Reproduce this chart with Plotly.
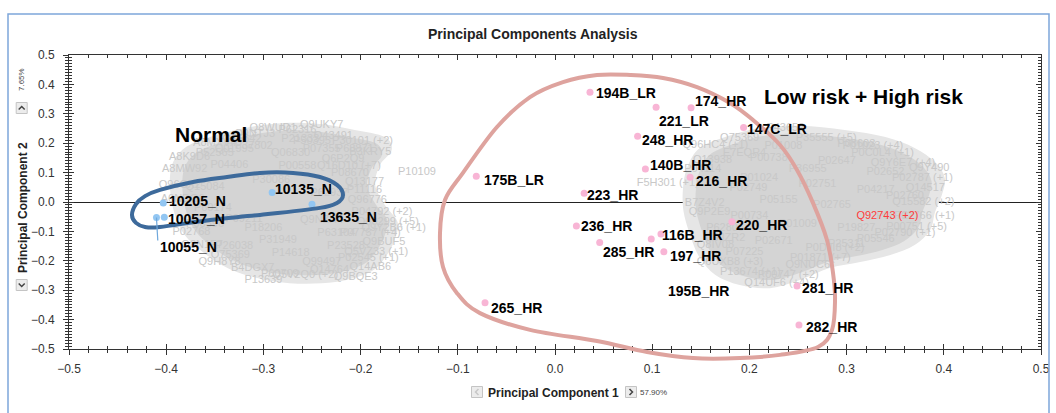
import plotly.graph_objects as go

# ---------------- sample scores (PC1, PC2) ----------------
normal_names = ["10205_N", "10057_N", "10055_N", "10135_N", "13635_N"]
normal_pc1 = [-0.403, -0.402, -0.410, -0.291, -0.250]
normal_pc2 = [-0.003, -0.052, -0.053, 0.032, -0.008]

risk_names = ["194B_LR", "221_LR", "174_HR", "147C_LR", "248_HR", "140B_HR",
              "216_HR", "175B_LR", "223_HR", "236_HR", "285_HR", "116B_HR",
              "195B_HR", "197_HR", "220_HR", "281_HR", "282_HR", "265_HR"]
risk_pc1 = [0.036, 0.104, 0.140, 0.194, 0.085, 0.093, 0.139, -0.081, 0.030,
            0.022, 0.046, 0.109, 0.099, 0.112, 0.182, 0.249, 0.251, -0.072]
risk_pc2 = [0.373, 0.322, 0.321, 0.253, 0.224, 0.112, 0.084, 0.088, 0.030,
            -0.082, -0.138, -0.109, -0.126, -0.169, -0.067, -0.286, -0.418, -0.343]

# ---------------- protein loadings (shown as grey ids) ----------------
left_ids = ["P62316", "Q9NTJ3", "A8MXV4", "Q15642", "O43491", "Q8WUD1", "P30101 (+2)",
            "B3KRY5", "Q6P2Q9", "Q16D10 (+7)", "A8K9D6", "A8MW92", "Q96CX2", "P08670",
            "Q13177", "P11116", "Q96776", "P04792 (+2)", "O00299 (+5)", "Q9Y2B6 (+1)",
            "P07737 (+4)", "Q5VZ33 (+1)", "P02545 (+1)", "Q14AB6", "Q5V2Q0 (+2)", "B4DGX7",
            "Q9H8Y8", "P02768", "Q8N1F7", "A6NDG6", "Q14764", "P60709", "O75369", "P68871",
            "Q01995", "P21333", "Q9BUF5", "P04406", "Q06830", "P07355", "P60174", "P18206",
            "Q9NZN4", "P26038", "P14618", "P23528", "Q15084", "P30086", "P62937", "P37802",
            "P50395", "P31949", "Q99497", "P09211", "P00558", "P52565", "P63104",
            "Q9UKY7", "P13639", "Q9BQE3", "P06396"]
left_pc1 = [-0.265, -0.309, -0.350, -0.322, -0.228, -0.290, -0.198,
            -0.190, -0.218, -0.212, -0.376, -0.381, -0.386, -0.211,
            -0.196, -0.196, -0.193, -0.178, -0.172, -0.166,
            -0.190, -0.184, -0.192, -0.190, -0.257, -0.311,
            -0.345, -0.374, -0.363, -0.383, -0.232, -0.283, -0.334, -0.206,
            -0.330, -0.262, -0.176, -0.335, -0.272, -0.240, -0.352, -0.300,
            -0.240, -0.330, -0.272, -0.215, -0.360, -0.292, -0.232, -0.310,
            -0.250, -0.285, -0.240, -0.320, -0.265, -0.350, -0.225,
            -0.240, -0.300, -0.205, -0.360]
left_pc2 = [0.245, 0.232, 0.200, 0.214, 0.222, 0.252, 0.205,
            0.168, 0.145, 0.120, 0.152, 0.110, 0.058, 0.098,
            0.068, 0.040, 0.006, -0.034, -0.068, -0.090,
            -0.106, -0.172, -0.190, -0.222, -0.250, -0.226,
            -0.205, -0.104, -0.148, 0.008, -0.232, -0.246, -0.180, 0.178,
            0.178, 0.212, -0.138, 0.125, 0.165, 0.180, -0.020, -0.090,
            -0.062, -0.150, -0.175, -0.150, 0.050, 0.075, 0.030, 0.190,
            0.205, -0.130, -0.205, -0.060, 0.120, 0.165, -0.105,
            0.262, -0.265, -0.255, -0.075]

right_ids = ["P43652", "Q75369", "P35555 (+5)", "Q96HC4 (+1)", "P01023 (+4)", "E7EQR4",
             "P0C0L4 (+1)", "Q9Y6E7 (+4)", "P02787 (+1)", "Q14517", "P02749", "Q15582 (+2)",
             "P00751 (+5)", "P02790 (+1)", "P0DJI8 (+2)", "Q6UXB8 (+3)", "P01871 (+7)",
             "P13674 (+1)", "Q9NUC6", "Q14UF6 (+4)", "F5H301 (+1)", "B7Z4V2", "Q9P2E9",
             "P62805", "Q8IV08", "C9JZR2", "P04114", "Q13938", "P00738", "P02647", "P02652",
             "P01024", "P02751", "P04217", "P05155", "P02765", "P01009", "P19827", "P02671",
             "P25311", "P06727", "P36955", "P08603", "P01008", "P00734", "P02760", "P07225",
             "P05546", "Q9Y490", "P02766 (+1)", "P00747 (+2)"]
right_pc1 = [0.237, 0.190, 0.279, 0.165, 0.327, 0.195,
             0.337, 0.358, 0.378, 0.381, 0.199, 0.379,
             0.372, 0.360, 0.288, 0.180, 0.273,
             0.201, 0.260, 0.228, 0.116, 0.154, 0.159,
             0.175, 0.165, 0.175, 0.152, 0.162, 0.220, 0.290, 0.340,
             0.210, 0.270, 0.330, 0.230, 0.285, 0.250, 0.310, 0.225,
             0.300, 0.350, 0.260, 0.310, 0.235, 0.200, 0.360, 0.195,
             0.330, 0.385, 0.380, 0.240]
right_pc2 = [0.252, 0.218, 0.218, 0.194, 0.190, 0.167,
             0.167, 0.133, 0.082, 0.048, 0.048, 0.000,
             -0.085, -0.105, -0.156, -0.204, -0.190,
             -0.238, -0.214, -0.276, 0.065, -0.003, -0.034,
             -0.088, -0.146, -0.122, 0.110, 0.143, 0.150, 0.140, 0.100,
             0.080, 0.060, 0.040, 0.005, -0.010, -0.075, -0.090, -0.135,
             -0.145, -0.050, 0.110, 0.195, 0.190, -0.050, 0.020, -0.170,
             -0.125, 0.115, -0.050, -0.250]

lone_ids = ["P10109"]
lone_pc1 = [-0.142]
lone_pc2 = [0.102]

selected_ids = ["Q92743 (+2)"]
selected_pc1 = [0.342]
selected_pc2 = [-0.048]

x_ticks = [-0.5, -0.4, -0.3, -0.2, -0.1, 0.0, 0.1, 0.2, 0.3, 0.4, 0.5]
y_ticks = [-0.5, -0.4, -0.3, -0.2, -0.1, 0.0, 0.1, 0.2, 0.3, 0.4, 0.5]

# ---------------- styling / layout geometry ----------------
W, H = 1056, 413
ML, MR, MT, MB = 69, 15, 55, 64
PW, PH = W - ML - MR, H - MT - MB
XR = [-0.5, 0.5]
YR = [-0.5, 0.5]
FONT = "Arial, 'Liberation Sans', sans-serif"
GREY_TXT = "rgb(200,200,200)"
CLOUD_EDGE = "rgb(230,230,230)"
CLOUD_CORE = "rgb(212,212,212)"
BLUE_PT = "#92c6f2"
PINK_PT = "#f8b5d5"

# label placement (px right, px down) from each point
normal_dx = [5.7, 4.0, 3.3, 2.7, 8.3]
normal_dy = [-2.3, 1.7, 29.0, -3.7, 12.4]
risk_dx = [5.7, 3.3, 4.0, 3.7, 4.7, 4.7, 5.7, 7.3, 2.4, 5.0, 3.4, 1.3, 16.3, 5.7, 4.4, 5.0, 7.4, 5.7]
risk_dy = [1.0, 13.7, -7.0, 1.3, 4.0, -4.0, 3.7, 4.0, 1.7, 0.0, 9.0, 1.0, 51.7, 4.3, 3.3, 2.3, 1.7, 5.6]


def px_x(px):
    return (px - ML) / PW


def px_y(py):
    return (H - MB - py) / PH


def data_to_paper_x(v):
    return (v - XR[0]) / (XR[1] - XR[0])


def data_to_paper_y(v):
    return (v - YR[0]) / (YR[1] - YR[0])


def smooth_closed_path(xs, ys):
    """Closed Catmull-Rom spline through the given points, as an SVG path."""
    pts = list(zip(xs, ys))
    n = len(pts)
    d = "M{:.5f},{:.5f}".format(*pts[0])
    for i in range(n):
        p0, p1, p2, p3 = pts[(i - 1) % n], pts[i], pts[(i + 1) % n], pts[(i + 2) % n]
        c1 = (p1[0] + (p2[0] - p0[0]) / 6, p1[1] + (p2[1] - p0[1]) / 6)
        c2 = (p2[0] - (p3[0] - p1[0]) / 6, p2[1] - (p3[1] - p1[1]) / 6)
        d += " C{:.5f},{:.5f} {:.5f},{:.5f} {:.5f},{:.5f}".format(*c1, *c2, *p2)
    return d + " Z"


def shrink(xs, ys, k):
    cx, cy = sum(xs) / len(xs), sum(ys) / len(ys)
    return [cx + k * (x - cx) for x in xs], [cy + k * (y - cy) for y in ys]


# outlines of the dense label clouds (data units)
left_cloud_x = [-0.394, -0.381, -0.355, -0.319, -0.278, -0.242, -0.206, -0.175, -0.168, -0.180,
                -0.185, -0.175, -0.162, -0.165, -0.175, -0.190, -0.226, -0.273, -0.314, -0.343,
                -0.365, -0.381, -0.391, -0.396]
left_cloud_y = [0.126, 0.184, 0.221, 0.252, 0.269, 0.265, 0.245, 0.221, 0.177, 0.126,
                0.058, -0.010, -0.068, -0.129, -0.190, -0.238, -0.272, -0.276, -0.252, -0.214,
                -0.163, -0.112, -0.044, 0.041]
right_cloud_x = [0.137, 0.149, 0.175, 0.211, 0.252, 0.298, 0.340, 0.370, 0.391, 0.401,
                 0.398, 0.391, 0.386, 0.370, 0.345, 0.314, 0.283, 0.252, 0.221, 0.190,
                 0.165, 0.149, 0.139, 0.132, 0.132]
right_cloud_y = [0.126, 0.184, 0.221, 0.252, 0.259, 0.245, 0.221, 0.184, 0.136, 0.082,
                 0.024, -0.034, -0.095, -0.146, -0.180, -0.204, -0.224, -0.265, -0.293, -0.282,
                 -0.248, -0.190, -0.112, -0.027, 0.058]

# group rings (data units)
normal_ring_x = [-0.4352, -0.4311, -0.4218, -0.4064, -0.3724, -0.3374, -0.3035, -0.2695, -0.2418,
                 -0.2243, -0.2181, -0.2243, -0.2418, -0.3035, -0.3549, -0.4064, -0.4218, -0.4311]
normal_ring_y = [-0.044, -0.007, 0.020, 0.041, 0.068, 0.085, 0.099, 0.099, 0.085,
                 0.058, 0.024, -0.003, -0.020, -0.044, -0.061, -0.085, -0.085, -0.071]
risk_ring_x = [-0.1132, -0.0947, -0.0597, -0.0257, 0.0082, 0.0432, 0.0772, 0.1111, 0.1461, 0.1800,
               0.2037, 0.2315, 0.2490, 0.2654, 0.2798, 0.2860, 0.2881, 0.2850, 0.2706, 0.2315,
               0.1903, 0.1420, 0.0947, 0.0432, -0.0257, -0.0772, -0.1008, -0.1152, -0.1183]
risk_ring_y = [0.007, 0.099, 0.255, 0.357, 0.408, 0.432, 0.432, 0.422, 0.391, 0.337,
               0.279, 0.194, 0.109, -0.003, -0.129, -0.241, -0.333, -0.435, -0.493, -0.520,
               -0.531, -0.531, -0.510, -0.473, -0.435, -0.378, -0.310, -0.221, -0.105]

fig = go.Figure()

# grey protein ids
for ids, xs, ys in [(left_ids, left_pc1, left_pc2), (right_ids, right_pc1, right_pc2),
                    (lone_ids, lone_pc1, lone_pc2)]:
    fig.add_trace(go.Scatter(x=xs, y=ys, text=ids, mode="text",
                             textfont=dict(family=FONT, size=11, color=GREY_TXT),
                             hoverinfo="skip", showlegend=False))
fig.add_trace(go.Scatter(x=selected_pc1, y=selected_pc2, text=selected_ids, mode="text",
                         textfont=dict(family=FONT, size=11, color="#ff3c3c"),
                         hoverinfo="skip", showlegend=False))

# sample points
fig.add_trace(go.Scatter(x=normal_pc1, y=normal_pc2, mode="markers", name="Normal",
                         marker=dict(size=7, color=BLUE_PT), showlegend=False))
fig.add_trace(go.Scatter(x=risk_pc1, y=risk_pc2, mode="markers", name="Low risk + High risk",
                         marker=dict(size=7, color=PINK_PT), showlegend=False))

annotations = []
for names, xs, ys, dxs, dys in [(normal_names, normal_pc1, normal_pc2, normal_dx, normal_dy),
                                (risk_names, risk_pc1, risk_pc2, risk_dx, risk_dy)]:
    for n, x, y, dx, dy in zip(names, xs, ys, dxs, dys):
        annotations.append(dict(x=x, y=y, xref="x", yref="y", text="<b>%s</b>" % n,
                                showarrow=False, xanchor="left", yanchor="middle",
                                xshift=dx - 2, yshift=-dy,
                                font=dict(family=FONT, size=14, color="black")))

# group captions
annotations.append(dict(x=-0.354, y=0.228, xref="x", yref="y", text="<b>Normal</b>",
                        showarrow=False, xanchor="center", yanchor="middle",
                        font=dict(family=FONT, size=21, color="black")))
annotations.append(dict(x=0.317, y=0.358, xref="x", yref="y", text="<b>Low risk + High risk</b>",
                        showarrow=False, xanchor="center", yanchor="middle",
                        font=dict(family=FONT, size=21, color="black")))


def paper_text(px, py, text, size, color, angle=0, xanchor="center", bold=False):
    annotations.append(dict(x=px_x(px), y=px_y(py), xref="paper", yref="paper",
                            text="<b>%s</b>" % text if bold else text, showarrow=False,
                            textangle=angle, xanchor=xanchor, yanchor="middle",
                            font=dict(family=FONT, size=size, color=color)))


# title and axis titles
paper_text(533, 34, "Principal Components Analysis", 14, "#222", bold=True)
paper_text(553, 392.5, "Principal Component 1", 12, "#222", bold=True)
paper_text(638, 392.5, "57.90%", 8, "#444", xanchor="left")
paper_text(23, 208, "Principal Component 2", 12, "#222", angle=-90, bold=True)
paper_text(21, 80, "7.65%", 8, "#444", angle=-90)

# small scroll buttons next to the axis titles: (cx, cy, direction, glyph colour)
buttons = [
    (477, 392, "left", "#c8c8c8"),
    (631, 392, "right", "#444"),
    (21.7, 108, "up", "#444"),
    (21.7, 285, "down", "#444"),
]
shapes = []
chevrons = {"right": [(-1.5, -3), (1.5, 0), (-1.5, 3)],
            "left": [(1.5, -3), (-1.5, 0), (1.5, 3)],
            "up": [(-3, 1.5), (0, -1.5), (3, 1.5)],
            "down": [(-3, -1.5), (0, 1.5), (3, -1.5)]}
for cx, cy, direction, col in buttons:
    shapes.append(dict(type="rect", xref="paper", yref="paper",
                       x0=px_x(cx - 5.5), x1=px_x(cx + 5.5), y0=px_y(cy + 5.5), y1=px_y(cy - 5.5),
                       line=dict(color="#c4c4c4", width=1), fillcolor="#ececec", layer="above"))
    pts = chevrons[direction]
    path = "M" + " L".join("{:.5f},{:.5f}".format(px_x(cx + a), px_y(cy + b)) for a, b in pts)
    shapes.append(dict(type="path", xref="paper", yref="paper", path=path,
                       line=dict(color=col, width=1.5), layer="above"))

# dense label clouds: soft halo plus denser core
for xs, ys in [(left_cloud_x, left_cloud_y), (right_cloud_x, right_cloud_y)]:
    shapes.append(dict(type="path", xref="x", yref="y", path=smooth_closed_path(xs, ys),
                       fillcolor=CLOUD_EDGE, line=dict(width=0), layer="between"))
    ix, iy = shrink(xs, ys, 0.9)
    shapes.append(dict(type="path", xref="x", yref="y", path=smooth_closed_path(ix, iy),
                       fillcolor=CLOUD_CORE, line=dict(width=0), layer="between"))

# group rings
shapes.append(dict(type="path", xref="paper", yref="paper", layer="above",
                   path=smooth_closed_path([data_to_paper_x(v) for v in normal_ring_x],
                                           [data_to_paper_y(v) for v in normal_ring_y]),
                   line=dict(color="#3d6a9b", width=4)))
shapes.append(dict(type="path", xref="paper", yref="paper", layer="above",
                   path=smooth_closed_path([data_to_paper_x(v) for v in risk_ring_x],
                                           [data_to_paper_y(v) for v in risk_ring_y]),
                   line=dict(color="#dea39e", width=4)))

# leader line to the 10055_N label
i55 = normal_names.index("10055_N")
shapes.append(dict(type="line", xref="x", yref="y",
                   x0=normal_pc1[i55], y0=normal_pc2[i55],
                   x1=normal_pc1[i55] + 1.3 / PW * (XR[1] - XR[0]),
                   y1=normal_pc2[i55] - (normal_dy[i55] - 6) / PH * (YR[1] - YR[0]),
                   line=dict(color="#6fa8dc", width=1.2), layer="above"))

# outer frame
shapes.append(dict(type="rect", xref="paper", yref="paper",
                   x0=px_x(8), x1=px_x(1049), y0=px_y(430), y1=px_y(14),
                   line=dict(color="#7ea7da", width=1.5), fillcolor="rgba(0,0,0,0)", layer="above"))

fig.update_layout(
    width=W, height=H,
    margin=dict(l=ML, r=MR, t=MT, b=MB, pad=0, autoexpand=False),
    paper_bgcolor="white", plot_bgcolor="white",
    showlegend=False,
    font=dict(family=FONT, color="#333"),
    xaxis=dict(range=XR, tickvals=x_ticks, tickformat=".1f", ticks="outside", ticklen=5,
               tickcolor="#333", showline=True, linecolor="#333", linewidth=1, mirror=True,
               showgrid=False, zeroline=False, ticklabelstandoff=4, automargin=False,
               tickfont=dict(family=FONT, size=12, color="#333"),
               minor=dict(dtick=0.02, ticks="outside", ticklen=3, tickcolor="#333", showgrid=False)),
    xaxis2=dict(range=XR, overlaying="x", anchor="y", side="bottom", tickvals=x_ticks,
                ticks="inside", ticklen=5, tickcolor="#333", mirror="ticks", showline=False,
                showticklabels=False, showgrid=False, zeroline=False, automargin=False,
                minor=dict(dtick=0.02, ticks="inside", ticklen=3, tickcolor="#333", showgrid=False)),
    yaxis=dict(range=YR, tickvals=y_ticks, tickformat=".1f", ticks="outside", ticklen=5,
               tickcolor="#333", showline=True, linecolor="#333", linewidth=1, mirror=True,
               showgrid=False, zeroline=True, zerolinecolor="#222", zerolinewidth=1,
               ticklabelstandoff=6, automargin=False,
               tickfont=dict(family=FONT, size=12, color="#333"),
               minor=dict(dtick=0.01, ticks="outside", ticklen=3, tickcolor="#333", showgrid=False)),
    yaxis2=dict(range=YR, overlaying="y", anchor="x", side="left", tickvals=y_ticks,
                ticks="inside", ticklen=5, tickcolor="#333", mirror="ticks", showline=False,
                showticklabels=False, showgrid=False, zeroline=False, automargin=False,
                minor=dict(dtick=0.01, ticks="inside", ticklen=3, tickcolor="#333", showgrid=False)),
    annotations=annotations,
    shapes=shapes,
)

# an invisible trace anchors the secondary tick axes
fig.add_trace(go.Scatter(x=[XR[0]], y=[YR[0]], xaxis="x2", yaxis="y2", mode="markers",
                         marker=dict(opacity=0), hoverinfo="skip", showlegend=False))

fig.write_html("out.html", config={"displayModeBar": False})
